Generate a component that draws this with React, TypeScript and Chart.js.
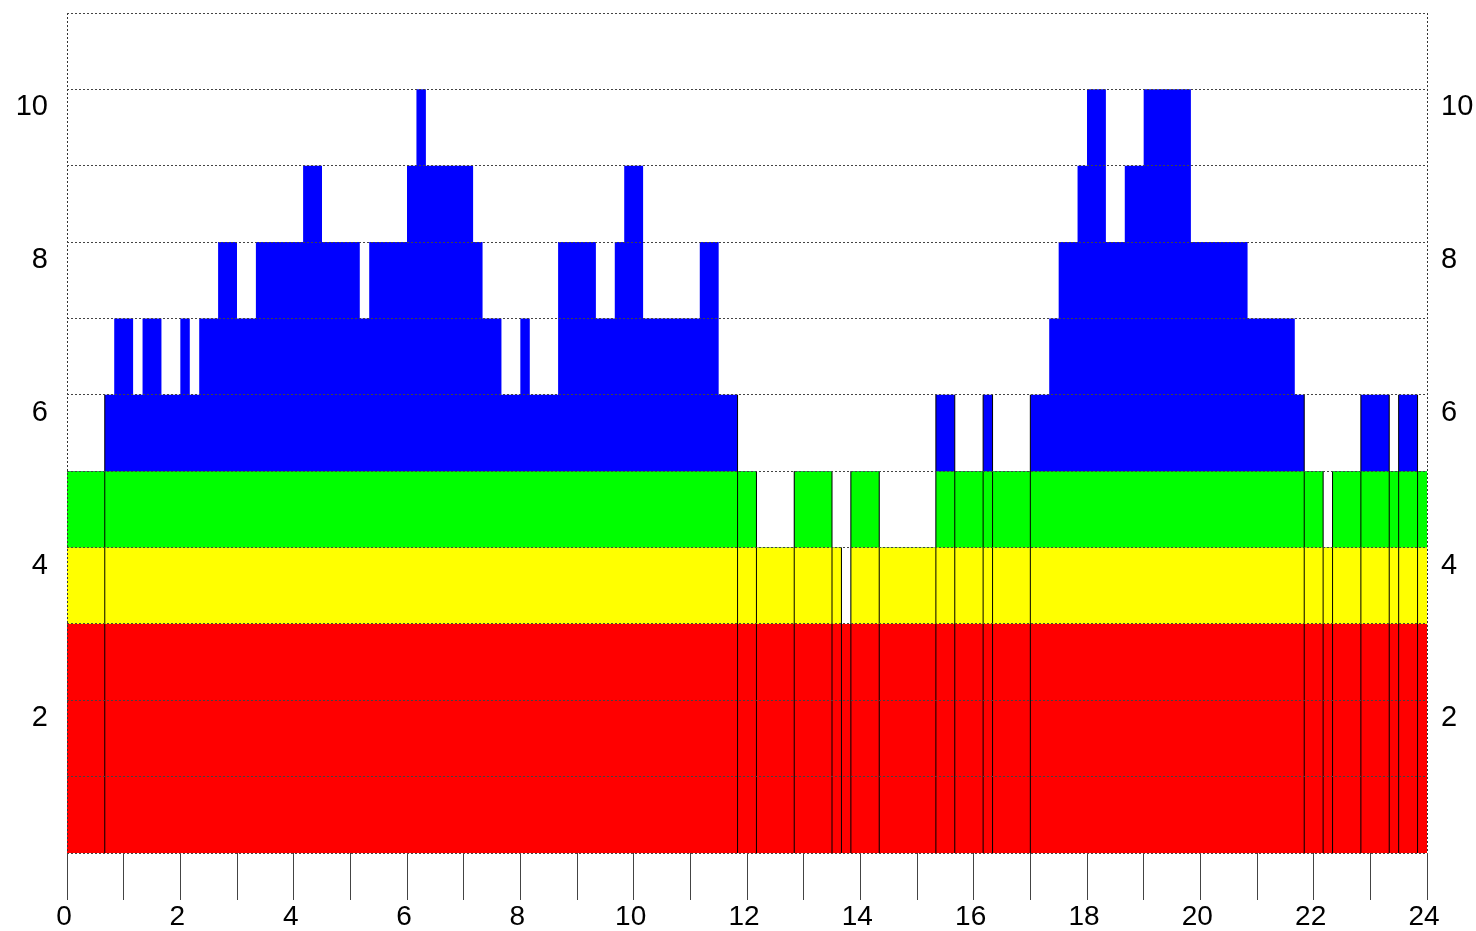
import React, { useEffect, useRef } from 'react';
import { Chart, registerables } from 'chart.js';

Chart.register(...registerables);

// One value per 10-minute bin, 00:00 → 24:00 (12 bins = 2 hours per row)
const BIN_MINUTES = 10;
const levels = [
  5, 5, 5, 5, 6, 7, 7, 6, 7, 7, 6, 6,
  7, 6, 7, 7, 8, 8, 7, 7, 8, 8, 8, 8,
  8, 9, 9, 8, 8, 8, 8, 7, 8, 8, 8, 8,
  9, 10, 9, 9, 9, 9, 9, 8, 7, 7, 6, 6,
  7, 6, 6, 6, 8, 8, 8, 8, 7, 7, 8, 9,
  9, 7, 7, 7, 7, 7, 7, 8, 8, 6, 6, 5,
  5, 4, 4, 4, 4, 5, 5, 5, 5, 4, 3, 5,
  5, 5, 4, 4, 4, 4, 4, 4, 6, 6, 5, 5,
  5, 6, 5, 5, 5, 5, 6, 6, 7, 8, 8, 9,
  10, 10, 8, 8, 9, 9, 10, 10, 10, 10, 10, 8,
  8, 8, 8, 8, 8, 7, 7, 7, 7, 7, 6, 5,
  5, 4, 5, 5, 5, 6, 6, 6, 5, 6, 6, 5,
];

// bins at whose start a thin black divider is drawn
const dividerBins = [4, 71, 73, 77, 81, 82, 83, 86, 92, 94, 97, 98, 102, 131, 133, 134, 137, 140, 141, 143];

// colour bands (stacked from the bottom)
const bandNames = ['red', 'yellow', 'green', 'blue'];
const bandColors = ['#ff0000', '#ffff00', '#00ff00', '#0000ff'];
const bandCeilings = [3, 4, 5, 11];

// axes
const xMin = 0;
const xMax = 24;
const yMin = 0;
const yMax = 11;
const xLabelValues = [0, 2, 4, 6, 8, 10, 12, 14, 16, 18, 20, 22, 24];
const yLabelValues = [2, 4, 6, 8, 10];

export default function App() {
  const canvasRef = useRef<HTMLCanvasElement | null>(null);

  useEffect(() => {
    if (!canvasRef.current) return;
    Chart.defaults.font.family = "'Liberation Sans', Arial, sans-serif";
    Chart.defaults.color = '#000';

    const hours = (b: number) => (b * BIN_MINUTES) / 60;
    const stepPoints = (ceil: number) => {
      const pts = levels.map((v, i) => ({ x: hours(i), y: Math.min(v, ceil) }));
      pts.push({ x: hours(levels.length), y: Math.min(levels[levels.length - 1], ceil) });
      return pts;
    };

    const dividerPoints: { x: number; y: number | null }[] = [];
    dividerBins.forEach((b) => {
      const h = Math.max(levels[b - 1], levels[b]);
      dividerPoints.push({ x: hours(b), y: 0 }, { x: hours(b), y: h }, { x: hours(b), y: null });
    });

    const bandDatasets = bandColors.map((c, k) => ({
      type: 'line' as const,
      label: bandNames[k],
      data: stepPoints(bandCeilings[k]),
      stepped: true,
      fill: 'origin',
      backgroundColor: c,
      borderColor: 'rgba(0,0,0,0)',
      borderWidth: 0,
      pointRadius: 0,
      yAxisID: 'y',
    }));

    const yTickCb = (v: any) => (yLabelValues.includes(Number(v)) ? String(v) : '');
    const noPad = (s: any) => {
      s.paddingTop = 0;
      s.paddingBottom = 0;
      s.paddingLeft = 0;
      s.paddingRight = 0;
    };

    const chart = new Chart(canvasRef.current, {
      type: 'line',
      data: {
        datasets: [
          {
            type: 'line',
            label: 'dividers',
            data: dividerPoints as any,
            borderColor: '#000',
            borderWidth: 1,
            pointRadius: 0,
            fill: false,
            spanGaps: false,
            yAxisID: 'y',
          },
          ...(bandDatasets as any),
        ],
      },
      options: {
        responsive: true,
        maintainAspectRatio: false,
        animation: false,
        events: [],
        layout: { padding: { top: 13, left: 0, right: 0, bottom: 0 } },
        plugins: { legend: { display: false }, tooltip: { enabled: false } },
        scales: {
          x: {
            type: 'linear',
            min: xMin,
            max: xMax,
            afterFit: (s: any) => {
              s.height = 78;
              noPad(s);
            },
            ticks: {
              stepSize: 1,
              autoSkip: false,
              maxRotation: 0,
              padding: 0,
              labelOffset: -3,
              font: { size: 28 },
              color: '#000',
              callback: (v: any) => (xLabelValues.includes(Number(v)) ? String(v) : ''),
            },
            grid: {
              display: true,
              drawOnChartArea: true,
              drawTicks: true,
              tickLength: 47,
              tickColor: '#444',
              tickWidth: 1,
              lineWidth: 1,
              color: (ctx: any) =>
                ctx.tick && (ctx.tick.value === xMin || ctx.tick.value === xMax) ? '#333' : 'rgba(0,0,0,0)',
              z: 1,
            },
            border: { display: false, dash: [2, 2] },
          },
          y: {
            type: 'linear',
            position: 'left',
            min: yMin,
            max: yMax,
            afterFit: (s: any) => {
              s.width = 67;
              noPad(s);
            },
            ticks: {
              stepSize: 1,
              autoSkip: false,
              padding: 19,
              labelOffset: 18,
              font: { size: 29 },
              color: '#000',
              callback: yTickCb,
            },
            grid: { drawTicks: false, color: '#444', lineWidth: 1, z: 1 },
            border: { display: false, dash: [2, 2] },
          },
          y2: {
            type: 'linear',
            position: 'right',
            min: yMin,
            max: yMax,
            afterFit: (s: any) => {
              s.width = 49;
              noPad(s);
            },
            ticks: {
              stepSize: 1,
              autoSkip: false,
              padding: 14,
              labelOffset: 18,
              font: { size: 29 },
              color: '#000',
              callback: yTickCb,
            },
            grid: { display: false, drawTicks: false },
            border: { display: false },
          },
        },
      } as any,
    });

    return () => chart.destroy();
  }, []);

  return (
    <div style={{ position: 'fixed', left: 0, top: 0, width: 1476, height: 931, background: '#fff' }}>
      <canvas ref={canvasRef} />
    </div>
  );
}
